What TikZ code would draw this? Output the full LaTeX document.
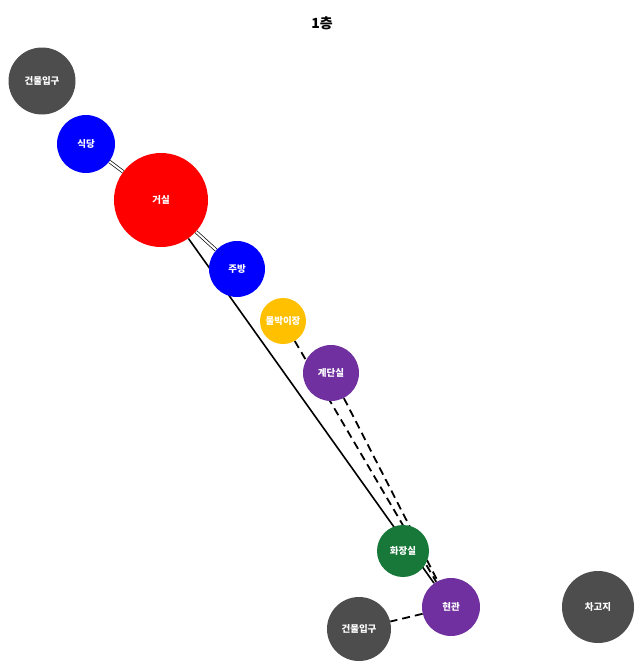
\documentclass[tikz,border=0pt]{standalone}
\usepackage{fontspec}
\newfontfamily\kr{Noto Sans CJK KR}
\usetikzlibrary{backgrounds}
\definecolor{roomgray}{RGB}{77,77,77}
\definecolor{roomblue}{RGB}{0,0,255}
\definecolor{roomred}{RGB}{255,0,0}
\definecolor{roomamber}{RGB}{255,192,0}
\definecolor{roompurple}{RGB}{112,48,160}
\definecolor{roomgreen}{RGB}{24,120,57}
\tikzset{%
    room/.style={circle, fill=#1, draw=none, inner sep=0pt, text=white,
    	font=\kr\bfseries\fontsize{9.5}{10}\selectfont},
    link/.style={line width=1.6pt},
    twin/.style={double, double distance=2pt, line width=0.7pt},
    dashlink/.style={line width=1.8pt, dash pattern=on 8pt off 5pt}
}
\begin{document}
\begin{tikzpicture}[x=1pt, y=-1pt]
  \useasboundingbox (0,0) rectangle (644,670);
  \node (title) [font=\kr\bfseries\fontsize{14}{16}\selectfont] at (322,23) {1층};

  \node (entA) [room=roomgray, minimum size=67pt] at (42,81) {건물입구};
  \node (dine) [room=roomblue, minimum size=58pt] at (86,144) {식당};
  \node (living) [room=roomred, minimum size=94pt] at (161,200) {거실};
  \node (kitchen) [room=roomblue, minimum size=56pt] at (237,269) {주방};
  \node (closet) [room=roomamber, minimum size=46pt] at (283,321) {물박이장};
  \node (stairs) [room=roompurple, minimum size=56pt] at (331,373) {계단실};
  \node (wc) [room=roomgreen, minimum size=52pt] at (403,551) {화장실};
  \node (hall) [room=roompurple, minimum size=58pt] at (451,607) {현관};
  \node (entB) [room=roomgray, minimum size=64pt] at (359,629) {건물입구};
  \node (garage) [room=roomgray, minimum size=72pt] at (598,607) {차고지};

  \begin{scope}[on background layer]
    \draw [twin] (dine) -- (living);
    \draw [twin] (living) -- (kitchen);
    \draw [link] (living) -- (hall);
    \draw [dashlink] (closet) -- (hall);
    \draw [dashlink] (stairs) -- (hall);
    \draw [dashlink] (hall) -- (entB);
  \end{scope}
\end{tikzpicture}
\end{document}
